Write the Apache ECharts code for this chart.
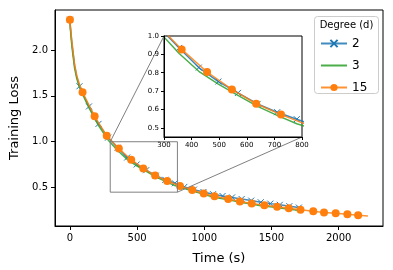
<!DOCTYPE html>
<html>
<head>
<meta charset="utf-8">
<script src="https://cdn.jsdelivr.net/npm/echarts@6/dist/echarts.min.js"></script>
<style>
html,body{margin:0;padding:0;background:#fff;}
#c{width:393px;height:270px;}
</style>
</head>
<body>
<div id="c"></div>
<script>
// ---- data ----
var seriesNames = ['2', '3', '15'];
var legendTitle = 'Degree (d)';
var xTickLabels = [0, 500, 1000, 1500, 2000];
var yTickLabels = [0.5, 1.0, 1.5, 2.0];
var insetXTicks = [300, 400, 500, 600, 700, 800];
var insetYTicks = [0.5, 0.6, 0.7, 0.8, 0.9, 1.0];
var zoomBox = [300, 800, 0.45, 1.0]; // x0, x1, y0, y1

var blueT = [0,4,8,14,22,35,51,71,142,213,284,355,426,497,568,639,710,781,852,923,994,1065,1136,1207,1278,1349,1420,1491,1562,1633,1704];
var blueL = [2.33,2.24,2.175,2.085,1.985,1.83,1.71,1.605,1.385,1.195,1.045,0.935,0.828,0.752,0.690,0.630,0.585,0.547,0.508,0.478,0.452,0.428,0.408,0.393,0.375,0.358,0.340,0.325,0.312,0.297,0.282];
var blueMark = [1,0,0,0,0,0,0,1,1,1,1,1,1,1,1,1,1,1,1,1,1,1,1,1,1,1,1,1,1,1,1];

var greenT = [0,4,8,14,22,35,51,71,100,142,213,284,355,426,497,568,639,710,781,852,923,994,1065,1136,1207,1278,1349,1420,1491,1562,1633,1720];
var greenL = [2.33,2.22,2.15,2.05,1.95,1.80,1.69,1.595,1.50,1.37,1.175,1.02,0.905,0.808,0.738,0.677,0.617,0.568,0.522,0.490,0.460,0.428,0.398,0.378,0.358,0.338,0.320,0.303,0.290,0.277,0.265,0.250];

var orangeT = [0,4,8,14,22,35,51,70,94,184,274,364,456,546,634,724,819,910,996,1076,1178,1265,1353,1447,1542,1629,1716,1811,1891,1978,2065,2145,2218];
var orangeL = [2.33,2.25,2.19,2.10,2.00,1.84,1.72,1.63,1.54,1.277,1.065,0.927,0.804,0.709,0.631,0.572,0.517,0.474,0.436,0.405,0.376,0.349,0.327,0.307,0.290,0.274,0.258,0.241,0.229,0.219,0.208,0.197,0.190];
var orangeMark = [1,0,0,0,0,0,0,0,1,1,1,1,1,1,1,1,1,1,1,1,1,1,1,1,1,1,1,1,1,1,1,1,0];

// ---- build ----
var C_BLUE = '#1f77b4', C_GREEN = '#2ca02c', C_ORANGE = '#ff7f0e';
var FONT = 'DejaVu Sans';
var X_SYMBOL = 'path://M0 0L10 10M10 0L0 10';

function pts(t, l, mark) {
  return t.map(function (v, i) {
    var d = { value: [v, l[i]] };
    if (mark && !mark[i]) d.symbol = 'none';
    return d;
  });
}

function makeSeries(gi, zBase) {
  return [
    {
      name: seriesNames[0], type: 'line', xAxisIndex: gi, yAxisIndex: gi,
      data: pts(blueT, blueL, blueMark),
      symbol: X_SYMBOL, symbolSize: 6, showAllSymbol: true,
      itemStyle: { color: C_BLUE, borderColor: C_BLUE, borderWidth: 1 },
      lineStyle: { color: C_BLUE, width: 1.5, opacity: 0.85 },
      emphasis: { disabled: true }, animation: false, clip: true, z: zBase
    },
    {
      name: seriesNames[1], type: 'line', xAxisIndex: gi, yAxisIndex: gi,
      data: pts(greenT, greenL, null),
      symbol: 'none', showSymbol: false,
      itemStyle: { color: C_GREEN },
      lineStyle: { color: C_GREEN, width: 1.5, opacity: 0.85 },
      emphasis: { disabled: true }, animation: false, clip: true, z: zBase + 1
    },
    {
      name: seriesNames[2], type: 'line', xAxisIndex: gi, yAxisIndex: gi,
      data: pts(orangeT, orangeL, orangeMark),
      symbol: 'circle', symbolSize: 8, showAllSymbol: true,
      itemStyle: { color: C_ORANGE, borderWidth: 0 },
      lineStyle: { color: C_ORANGE, width: 1.5, opacity: 0.85 },
      emphasis: { disabled: true }, animation: false, clip: true, z: zBase + 2
    }
  ];
}

var axisCommon = {
  axisLine: { show: true, onZero: false, lineStyle: { color: '#000', width: 1 } },
  splitLine: { show: false }
};

var chart = echarts.init(document.getElementById('c'), null, { renderer: 'canvas' });

var option = {
  animation: false,
  backgroundColor: '#fff',
  textStyle: { fontFamily: FONT },
  grid: [
    { left: 48, top: 10, right: 10, bottom: 42, show: true, borderColor: '#000', borderWidth: 1, backgroundColor: 'transparent', z: 0 },
    { left: 164, top: 36, width: 138, height: 101, show: true, borderColor: '#000', borderWidth: 1, backgroundColor: '#fff', z: 5 }
  ],
  xAxis: [
    Object.assign({}, axisCommon, {
      type: 'value', gridIndex: 0, min: -111, max: 2330,
      name: 'Time (s)', nameLocation: 'middle', nameGap: 26,
      nameTextStyle: { fontSize: 13, color: '#000', fontFamily: FONT },
      axisTick: { show: true, length: 4, lineStyle: { color: '#000' }, customValues: xTickLabels },
      axisLabel: { fontSize: 10, color: '#000', margin: 7, fontFamily: FONT, customValues: xTickLabels,
        formatter: function (v) { return String(v); } }
    }),
    Object.assign({}, axisCommon, {
      type: 'value', gridIndex: 1, min: insetXTicks[0], max: insetXTicks[insetXTicks.length - 1], interval: 100, z: 12,
      axisTick: { show: true, length: 3, lineStyle: { color: '#000' } },
      axisLabel: { fontSize: 7, color: '#000', margin: 5, fontFamily: FONT }
    })
  ],
  yAxis: [
    Object.assign({}, axisCommon, {
      type: 'value', gridIndex: 0, min: 0.081, max: 2.437,
      name: 'Training Loss', nameLocation: 'middle', nameGap: 34, nameRotate: 90,
      nameTextStyle: { fontSize: 13, color: '#000', fontFamily: FONT },
      axisTick: { show: true, length: 4, lineStyle: { color: '#000' }, customValues: yTickLabels },
      axisLabel: { fontSize: 10, color: '#000', margin: 7, fontFamily: FONT, customValues: yTickLabels,
        formatter: function (v) { return v.toFixed(1); } }
    }),
    Object.assign({}, axisCommon, {
      type: 'value', gridIndex: 1, min: zoomBox[2], max: zoomBox[3], z: 12,
      axisTick: { show: true, length: 3, lineStyle: { color: '#000' }, customValues: insetYTicks },
      axisLabel: { fontSize: 7, color: '#000', margin: 5, fontFamily: FONT, customValues: insetYTicks,
        formatter: function (v) { return v.toFixed(1); } }
    })
  ],
  legend: {
    data: [
      { name: seriesNames[0] },
      { name: seriesNames[1], itemStyle: { color: 'transparent', borderColor: 'transparent', borderWidth: 0, opacity: 0 } },
      { name: seriesNames[2] }
    ],
    orient: 'vertical', left: 320, top: 37.5, padding: 0,
    itemWidth: 26, itemHeight: 9, itemGap: 10,
    textStyle: { fontSize: 12, color: '#000', fontFamily: FONT },
    selectedMode: false, z: 10
  },
  series: makeSeries(0, 2).concat(makeSeries(1, 7))
};
chart.setOption(option);

// zoom rectangle, connectors and legend box from the library's scales
var a = chart.convertToPixel({ gridIndex: 0 }, [zoomBox[0], zoomBox[3]]);
var b = chart.convertToPixel({ gridIndex: 0 }, [zoomBox[1], zoomBox[2]]);
var ia = chart.convertToPixel({ gridIndex: 1 }, [zoomBox[0], zoomBox[3]]);
var ib = chart.convertToPixel({ gridIndex: 1 }, [zoomBox[1], zoomBox[2]]);
var gray = { stroke: '#808080', lineWidth: 1, fill: null };

chart.setOption({
  graphic: [
    { type: 'rect', z: 6, shape: { x: a[0], y: a[1], width: b[0] - a[0], height: b[1] - a[1] }, style: gray, silent: true },
    { type: 'line', z: 6, shape: { x1: a[0], y1: a[1], x2: ia[0], y2: ia[1] }, style: gray, silent: true },
    { type: 'line', z: 6, shape: { x1: b[0], y1: b[1], x2: ib[0], y2: ib[1] }, style: gray, silent: true },
    { type: 'rect', z: 8, shape: { x: 314.5, y: 16.5, width: 64, height: 77, r: 3 },
      style: { fill: 'rgba(255,255,255,0.8)', stroke: '#cccccc', lineWidth: 1 }, silent: true },
    { type: 'text', z: 9, x: 346.5, y: 25, silent: true,
      style: { text: legendTitle, fontSize: 10, fontFamily: FONT, fill: '#000', align: 'center', verticalAlign: 'middle' } }
  ]
});
</script>
</body>
</html>
